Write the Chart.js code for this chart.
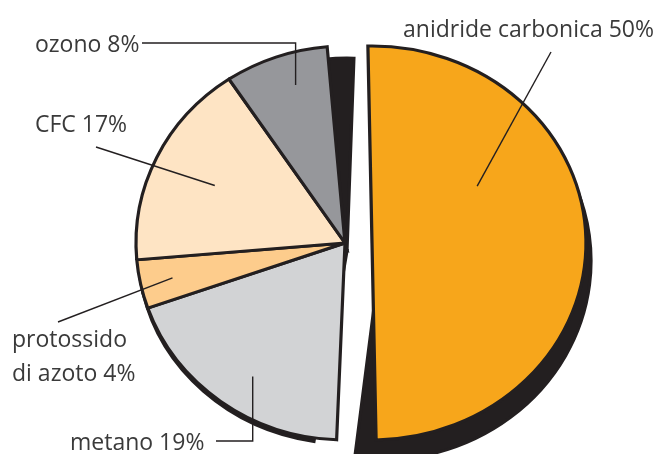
<!DOCTYPE html>
<html>
<head>
<meta charset="utf-8">
<script src="https://cdn.jsdelivr.net/npm/chart.js@4/dist/chart.umd.min.js"></script>
<style>
  html, body { margin: 0; padding: 0; background: #ffffff; }
  #wrap { width: 656px; height: 454px; position: relative; }
</style>
</head>
<body>
<div id="wrap"><canvas id="chart" width="656" height="454"></canvas></div>
<script>
// Greenhouse gases: share of the effect, in percent
const categories = ['anidride carbonica', 'metano', 'protossido\ndi azoto', 'CFC', 'ozono'];
const shares = [50, 19, 4, 17, 8];

// Slice colours
const fills = ['#f7a61b', '#d2d3d5', '#fdcc8c', '#fee4c4', '#96979b'];
const INK = '#231f20';
const TEXT = '#3a3a3a';

// Where each piece is drawn: centre, horizontal/vertical radius, extra turn (degrees)
const pieGeo    = { cx: 345, cy: 243, rx: 209, ry: 197, turn: 0.8 };
const pieShadow = { cx: 347, cy: 251, rx: 209, ry: 193, turn: 7.6 };
const cutGeo    = { cx: 372, cy: 243, rx: 214, ry: 197, turn: -2.6 };
const cutShadow = { cx: 380, cy: 261, rx: 211, ry: 199, turn: 5.4 };

// Label placement: text origin, leader anchor inside the slice (t along the slice, f of radius)
const labelLayout = [
  { x: 403, y: 37, t: 0.337, f: 0.57, end: [551, 52] },
  { x: 70,  y: 450, t: 0.45, f: 0.809, elbow: 'v', end: [216, 441] },
  { x: 12,  y: 347, t: 0.5,  f: 0.844, end: [58, 322] },
  { x: 35,  y: 132, t: 0.49, f: 0.688, end: [96, 147] },
  { x: 35,  y: 52,  t: 0.6,  f: 0.836, elbow: 'v', end: [142, 43] }
];
const LINE_GAP = 34;

const total = shares.reduce((a, b) => a + b, 0);

function mapPoint(geo, arc, ang, frac) {
  const R = arc.outerRadius;
  const lx = Math.cos(ang) * frac * R;
  const ly = Math.sin(ang) * frac * R;
  const tr = geo.turn * Math.PI / 180;
  const px = lx * Math.cos(tr) - ly * Math.sin(tr);
  const py = lx * Math.sin(tr) + ly * Math.cos(tr);
  return [geo.cx + px * geo.rx / R, geo.cy + py * geo.ry / R];
}

function paint(ctx, arc, geo, colour) {
  const saved = arc.options;
  if (colour) {
    arc.options = Object.assign({}, saved, { backgroundColor: colour, borderColor: colour });
  }
  ctx.save();
  ctx.translate(geo.cx, geo.cy);
  ctx.scale(geo.rx / arc.outerRadius, geo.ry / arc.outerRadius);
  ctx.rotate(geo.turn * Math.PI / 180);
  ctx.translate(-arc.x, -arc.y);
  ctx.miterLimit = 3;
  arc.draw(ctx);
  ctx.restore();
  arc.options = saved;
}

const explodedPie = {
  id: 'explodedPie',
  beforeDatasetsDraw(chart) {
    const ctx = chart.ctx;
    const arcs = chart.getDatasetMeta(0).data;
    // dark extrusion behind both pieces
    for (let i = 1; i < arcs.length; i++) paint(ctx, arcs[i], pieShadow, INK);
    paint(ctx, arcs[0], cutShadow, INK);
    // coloured slices
    for (let i = 1; i < arcs.length; i++) paint(ctx, arcs[i], pieGeo, null);
    paint(ctx, arcs[0], cutGeo, null);
    return false;
  },
  afterDraw(chart) {
    const ctx = chart.ctx;
    const arcs = chart.getDatasetMeta(0).data;
    ctx.save();
    ctx.strokeStyle = INK;
    ctx.lineWidth = 1.4;
    ctx.lineCap = 'butt';
    ctx.font = '23px "Open Sans", sans-serif';
    ctx.fillStyle = TEXT;
    ctx.textBaseline = 'alphabetic';
    ctx.textAlign = 'left';
    arcs.forEach((arc, i) => {
      const lay = labelLayout[i];
      const geo = i === 0 ? cutGeo : pieGeo;
      const ang = arc.startAngle + lay.t * (arc.endAngle - arc.startAngle);
      const a = mapPoint(geo, arc, ang, lay.f);
      ctx.beginPath();
      ctx.moveTo(a[0], a[1]);
      if (lay.elbow === 'v') ctx.lineTo(a[0], lay.end[1]);
      ctx.lineTo(lay.end[0], lay.end[1]);
      ctx.stroke();
      const lines = (categories[i] + ' ' + shares[i] + '%').split('\n');
      lines.forEach((ln, k) => ctx.fillText(ln, lay.x, lay.y + k * LINE_GAP));
    });
    ctx.restore();
  }
};

new Chart(document.getElementById('chart'), {
  type: 'pie',
  data: {
    labels: categories,
    datasets: [{
      data: shares,
      backgroundColor: fills,
      borderColor: INK,
      borderWidth: 3,
      borderJoinStyle: 'miter',
      offset: 0
    }]
  },
  options: {
    responsive: false,
    animation: false,
    devicePixelRatio: 1,
    rotation: 1.5,
    circumference: total * 3.6,
    radius: 197,
    events: [],
    plugins: { legend: { display: false }, tooltip: { enabled: false } }
  },
  plugins: [explodedPie]
});
</script>
</body>
</html>
